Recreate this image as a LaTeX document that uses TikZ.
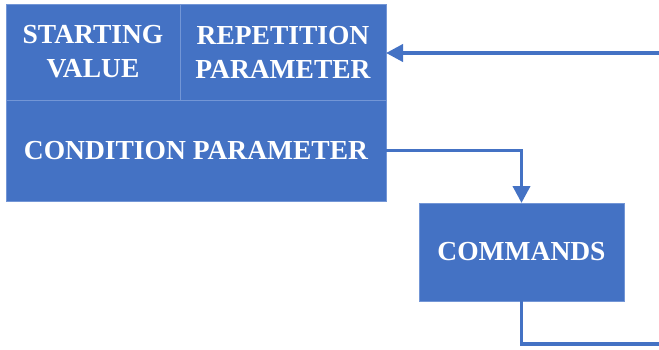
\documentclass[tikz,border=0pt]{standalone}
\usepackage{fontspec}
\setmainfont{Liberation Serif}
\usetikzlibrary{arrows.meta}
\definecolor{boxblue}{HTML}{4472C4}
\definecolor{edgeblue}{HTML}{7396D6}
\definecolor{flowblue}{HTML}{4472C4}
\tikzset{
  cell/.style={fill=boxblue, draw=edgeblue, line width=0.8pt, text=white,
    align=center, inner sep=0pt, outer sep=0pt,
    font=\fontsize{27.5}{34}\selectfont\bfseries},
  flow/.style={draw=flowblue, line width=3.8pt},
  flowarrow/.style={flow, -{Triangle[length=17pt,width=17pt]}}
}
\begin{document}
\begin{tikzpicture}[x=1pt,y=-1pt]
  \useasboundingbox (0,0) rectangle (659,349);
  % loop header: three cells
  \node[cell, minimum width=174pt, minimum height=96pt] (start) at (93,52) {STARTING\\VALUE};
  \node[cell, minimum width=206pt, minimum height=96pt] (rep) at (283,52) {REPETITION\\PARAMETER};
  \node[cell, minimum width=380pt, minimum height=101pt] (cond) at (196,150.5) {CONDITION PARAMETER};
  % loop body
  \node[cell, minimum width=205pt, minimum height=98pt] (cmd) at (521.5,252) {COMMANDS};
  % free ends of the return path
  \coordinate (back) at (659,53);
  \coordinate (out) at (659,344);
  % connectors
  \draw[flowarrow] (back) -- (back -| rep.east);
  \draw[flowarrow] (cond.east) -| (cmd.north);
  \draw[flow] (cmd.south) |- (out);
\end{tikzpicture}
\end{document}
